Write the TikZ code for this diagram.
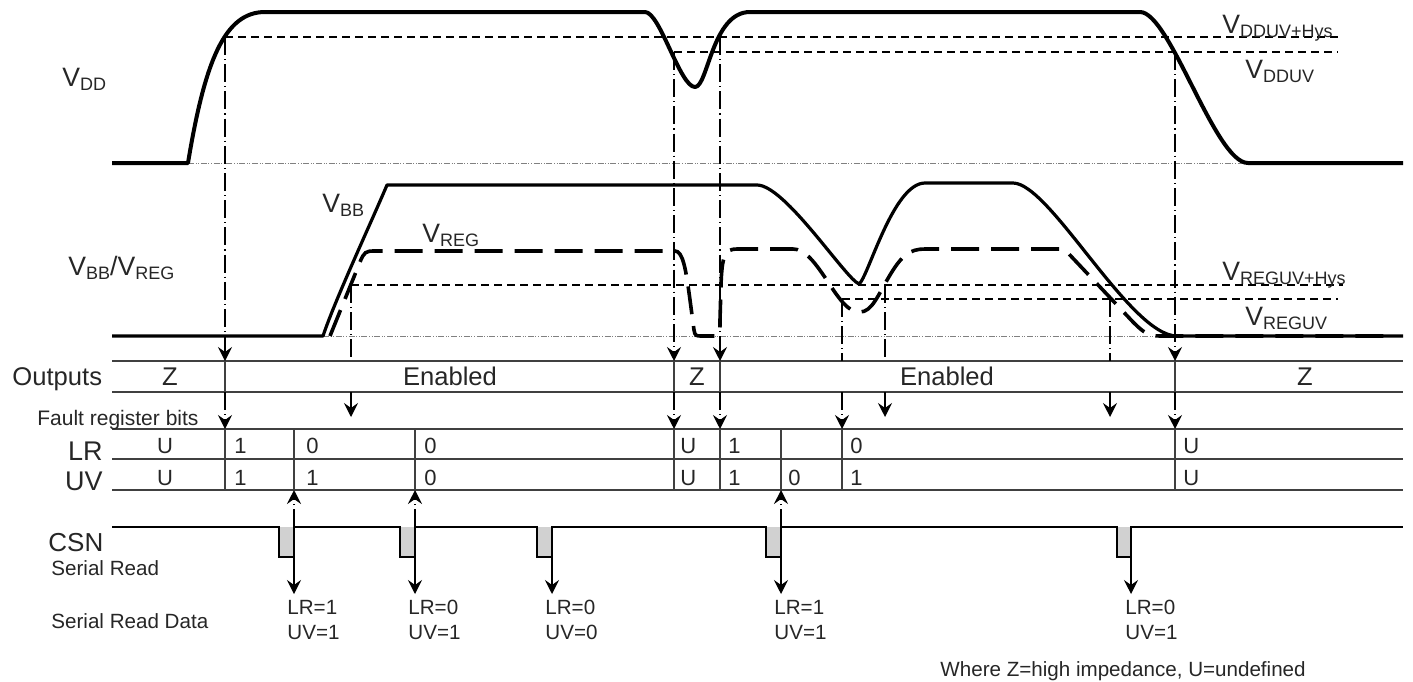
\documentclass[tikz,border=0pt]{standalone}
\usepackage{fontspec}
\setmainfont{Liberation Sans}
\usetikzlibrary{arrows.meta}
\newcommand{\Vsub}[1]{V\raisebox{-2pt}{\fontsize{9}{9}\selectfont #1}}
\begin{document}
\begin{tikzpicture}[x=0.5pt,y=-0.5pt,
  vdd/.style={line width=2pt, line join=round},
  vbb/.style={line width=1.6pt, line join=round},
  vreg/.style={line width=1.8pt, dash pattern=on 14pt off 6pt},
  thr/.style={line width=0.6pt, dash pattern=on 4pt off 2.5pt},
  evt/.style={line width=0.7pt, dash pattern=on 9pt off 2pt on 0.6pt off 2pt},
  basel/.style={black!50, line width=0.4pt, dash pattern=on 3pt off 0.8pt on 0.5pt off 0.8pt on 0.5pt off 0.8pt},
  rowl/.style={line width=0.6pt, draw=black!75},
  arr/.style={-{Stealth[length=7pt,width=7pt,inset=2.5pt]}},
  csnl/.style={line width=0.9pt},
  big/.style={font=\fontsize{13.3}{15}\selectfont, inner sep=0pt, anchor=base west, text=black!85},
  rowt/.style={font=\fontsize{12.8}{14}\selectfont, inner sep=0pt, anchor=base, text=black!85},
  lrl/.style={font=\fontsize{13.5}{15}\selectfont, inner sep=0pt, anchor=base east, text=black!85},
  cell/.style={font=\fontsize{11}{12}\selectfont, inner sep=0pt, anchor=base west, text=black!85},
  cellc/.style={font=\fontsize{11}{12}\selectfont, inner sep=0pt, anchor=base, text=black!85},
  fault/.style={font=\fontsize{10.5}{12}\selectfont, inner sep=0pt, anchor=base west, text=black!85},
  csnt/.style={font=\fontsize{13}{15}\selectfont, inner sep=0pt, anchor=base west, text=black!85},
  small/.style={font=\fontsize{10.3}{12}\selectfont, inner sep=0pt, anchor=base west, text=black!85}
]
\useasboundingbox (0,0) rectangle (1413,681);

% baselines
\draw[basel] (188,163) -- (1248,163);
\draw[basel] (323,336) -- (1177,336);

% thresholds
\draw[thr] (225,37) -- (1338,37);
\draw[thr] (674,52) -- (1338,52);
\draw[thr] (351,285) -- (1343,285);
\draw[thr] (842,299) -- (1338,299);

% row lines
\foreach \y in {361,392,429,459,490} \draw[rowl] (112,\y) -- (1403,\y);

% main event lines (with output dividers)
\foreach \x/\ys in {225/37,674/52,720/37,1175/52} {
  \coordinate (s\x) at (\x,\ys);
  \coordinate (o\x) at (\x,361);
  \coordinate (p\x) at (\x,392);
  \coordinate (f\x) at (\x,429);
  \draw[evt,arr] (s\x) -- (o\x);
  \draw[rowl] (o\x) -- (p\x);
  \draw[evt,arr] (p\x) -- (f\x);
}
% secondary event lines
\foreach \x/\ys/\ye in {351/285/417,842/299/429,885/285/417,1110/299/417} {
  \coordinate (s\x) at (\x,\ys);
  \coordinate (o\x) at (\x,361);
  \coordinate (p\x) at (\x,392);
  \coordinate (f\x) at (\x,\ye);
  \draw[evt] (s\x) -- (o\x);
  \draw[evt,arr] (p\x) -- (f\x);
}

% LR/UV dividers
\foreach \x in {225,294,415,674,720,781,842,1175} \draw[rowl] (\x,429) -- (\x,490);

% CSN
\foreach \a/\b in {279/294,400/415,537/552,766/781,1117/1131} \fill[black!18] (\a,527) rectangle (\b,557);
\draw[csnl] (112,527) -- (279,527) -- (279,557) -- (294,557) -- (294,527)
  -- (400,527) -- (400,557) -- (415,557) -- (415,527)
  -- (537,527) -- (537,557) -- (552,557) -- (552,527)
  -- (766,527) -- (766,557) -- (781,557) -- (781,527)
  -- (1117,527) -- (1117,557) -- (1131,557) -- (1131,527) -- (1403,527);
\foreach \x in {294,415,781} {
  \coordinate (c\x) at (\x,527);
  \coordinate (u\x) at (\x,490);
  \draw[evt,arr] (c\x) -- (u\x);
}
\foreach \x in {294,415,552,781,1131} {
  \coordinate (b\x) at (\x,557);
  \coordinate (d\x) at (\x,594);
  \draw[line width=0.7pt,arr] (b\x) -- (d\x);
}

% signals
\draw[vreg] (330,336) -- (360,262) .. controls (364,252) and (366,251) .. (374,251) -- (675,251)
  .. controls (683,251) and (686,270) .. (690,300) -- (694,330)
  .. controls (695,336) and (696,336) .. (702,336) -- (716,336)
  .. controls (720,336) and (720,330) .. (720,320) -- (721,285)
  .. controls (722,255) and (725,249) .. (737,249) -- (793,249)
  .. controls (805,249) and (815,262) .. (830,285)
  .. controls (845,308) and (852,312) .. (860,312)
  .. controls (872,312) and (878,295) .. (890,275)
  .. controls (902,255) and (910,249) .. (925,249) -- (1062,249)
  .. controls (1064,249) and (1065,250) .. (1068,253) -- (1133,322)
  .. controls (1143,332) and (1148,336) .. (1160,336) -- (1390,336);
\draw[vbb] (112,336) -- (323,336) .. controls (335,300) and (370,225) .. (387,185) -- (757,185)
  .. controls (785,185) and (845,278) .. (859,284)
  .. controls (868,278) and (893,183) .. (925,183) -- (1013,183)
  .. controls (1050,183) and (1130,336) .. (1177,336) -- (1403,336);
\draw[vdd] (112,163) -- (188,163) .. controls (205,60) and (225,12) .. (265,12) -- (645,12)
  .. controls (660,12) and (680,87) .. (695,87)
  .. controls (708,87) and (712,12) .. (750,12) -- (1140,12)
  .. controls (1170,12) and (1215,163) .. (1248,163) -- (1403,163);

% signal labels
\node[big] (lvdd) at (62,86) {\Vsub{DD}};
\node[big] (lvbbreg) at (68,275) {\Vsub{BB}/\Vsub{REG}};
\node[big] (lvbb) at (322,212) {\Vsub{BB}};
\node[big] (lvreg) at (422,242) {\Vsub{REG}};
\node[big] (ldduvh) at (1222,33) {\Vsub{DDUV+Hys}};
\node[big] (ldduv) at (1245,78) {\Vsub{DDUV}};
\node[big] (lreguvh) at (1222,280) {\Vsub{REGUV+Hys}};
\node[big] (lreguv) at (1245,325) {\Vsub{REGUV}};

% outputs row
\node[rowt, anchor=base west] (outp) at (12,385) {Outputs};
\node[rowt] (z1) at (170,385) {Z};
\node[rowt] (en1) at (450,385) {Enabled};
\node[rowt] (z2) at (697,385) {Z};
\node[rowt] (en2) at (947,385) {Enabled};
\node[rowt] (z3) at (1305,385) {Z};

% fault register
\node[fault] (frb) at (37,425) {Fault register bits};
\node[lrl] (lr) at (103,460) {LR};
\node[lrl] (uv) at (103,490) {UV};

\node[cellc] (lr0) at (165,453) {U};
\node[cell] (lr1) at (234,453) {1};
\node[cell] (lr2) at (306,453) {0};
\node[cell] (lr3) at (424,453) {0};
\node[cell] (lr4) at (680,453) {U};
\node[cell] (lr5) at (728,453) {1};
\node[cell] (lr6) at (850,453) {0};
\node[cell] (lr7) at (1183,453) {U};

\node[cellc] (uv0) at (165,485) {U};
\node[cell] (uv1) at (234,485) {1};
\node[cell] (uv2) at (306,485) {1};
\node[cell] (uv3) at (424,485) {0};
\node[cell] (uv4) at (680,485) {U};
\node[cell] (uv5) at (728,485) {1};
\node[cell] (uv6) at (788,485) {0};
\node[cell] (uv7) at (850,485) {1};
\node[cell] (uv8) at (1183,485) {U};

% CSN labels
\node[csnt] (csn) at (48,551) {CSN};
\node[small] (sr) at (51,575) {Serial Read};
\node[small] (srd) at (51,628) {Serial Read Data};
\foreach \x/\l/\u [count=\i] in {287/1/1,408/0/1,545/0/0,774/1/1,1125/0/1} {
  \node[small] (dlr\i) at (\x,614) {LR=\l};
  \node[small] (duv\i) at (\x,639) {UV=\u};
}
\node[small] (note) at (940,676) {Where Z=high impedance, U=undefined};
\end{tikzpicture}
\end{document}
